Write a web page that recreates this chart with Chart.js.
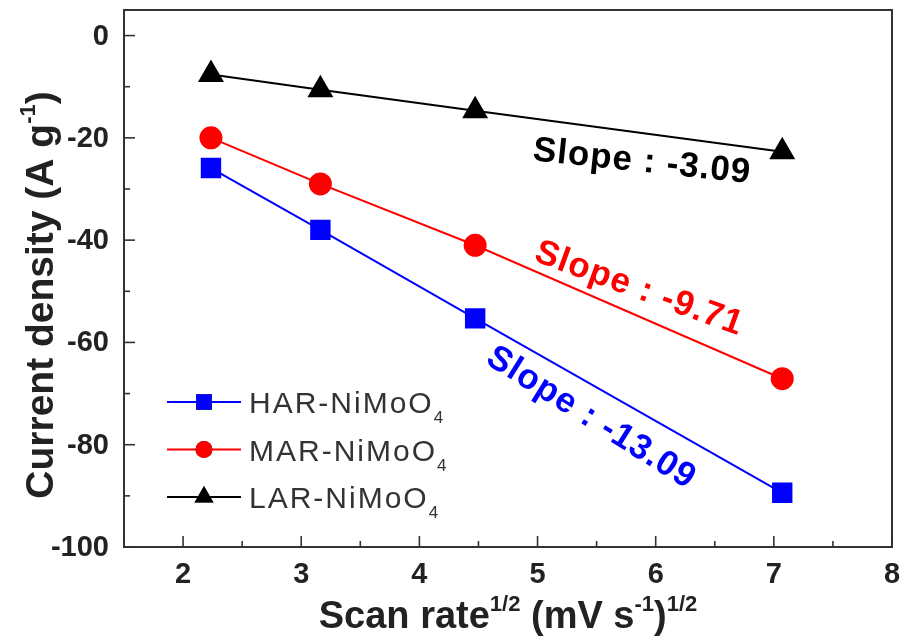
<!DOCTYPE html>
<html>
<head>
<meta charset="utf-8">
<script src="https://cdn.jsdelivr.net/npm/chart.js@4.4.1/dist/chart.umd.min.js"></script>
<style>
html,body{margin:0;padding:0;background:#fff;}
#wrap{width:900px;height:642px;}
</style>
</head>
<body>
<div id="wrap"><canvas id="cv" width="900" height="642"></canvas></div>
<script>
/* scan rate^1/2 values: sqrt of 5, 10, 20, 50 mV/s */
const scanRoot = [2.236, 3.162, 4.472, 7.071];

const harValues = [-25.9, -38.0, -55.3, -89.4];
const marValues = [-20.0, -29.0, -41.0, -67.1];
const larValues = [-7.6, -10.6, -14.7, -22.7];

const seriesNames = ['HAR-NiMoO', 'MAR-NiMoO', 'LAR-NiMoO'];
const slopeLabels = ['Slope : -13.09', 'Slope : -9.71', 'Slope : -3.09'];

const xTicks = [2, 3, 4, 5, 6, 7, 8];
const yTicks = [0, -20, -40, -60, -80, -100];

const FONT = 'Arimo, "Liberation Sans", Arial, sans-serif';
const INK = '#222';

function pts(vals){
return scanRoot.map((x,i)=>({x:x, y:vals[i]}));
}

/* =========================================
FRAME, TICKS, TITLES, LEGEND, SLOPES
========================================= */

const decor = {
id:'decor',
afterDraw(chart){
const c = chart.ctx;
const a = chart.chartArea;
const xs = chart.scales.x;
const ys = chart.scales.y;

c.save();
c.strokeStyle = '#333';
c.lineWidth = 2;
c.strokeRect(a.left, a.top, a.right - a.left, a.bottom - a.top);

// inward ticks, minor at half steps
c.lineWidth = 1.6;
for(let v = 1.5; v <= 8.001; v += 0.5){
const px = xs.getPixelForValue(v);
const len = Number.isInteger(v) ? 11 : 6;
c.beginPath();
c.moveTo(px, a.bottom);
c.lineTo(px, a.bottom - len);
c.stroke();
}
for(let v = -100; v <= 0; v += 10){
const py = ys.getPixelForValue(v);
const len = (v % 20 === 0) ? 11 : 6;
c.beginPath();
c.moveTo(a.left, py);
c.lineTo(a.left + len, py);
c.stroke();
}

// tick labels
c.fillStyle = INK;
c.font = 'bold 29px ' + FONT;
c.textAlign = 'center';
c.textBaseline = 'alphabetic';
xTicks.forEach(v=>{
c.fillText(String(v), xs.getPixelForValue(v), a.bottom + 36);
});
c.textAlign = 'right';
c.textBaseline = 'middle';
yTicks.forEach(v=>{
c.fillText(String(v), a.left - 15, ys.getPixelForValue(v) + 1);
});
c.textBaseline = 'alphabetic';

// x title with superscripts
const xParts = [
['Scan rate', false], ['1/2', true], [' (mV s', false],
['-1', true], [')', false], ['1/2', true]
];
drawRich(c, xParts, (a.left + a.right) / 2, 628, 38, 22, -17);

// y title, rotated
c.save();
c.translate(53, 295);
c.rotate(-Math.PI / 2);
const yParts = [['Current density (A g', false], ['-1', true], [')', false]];
drawRich(c, yParts, 0, 0, 39, 22, -18);
c.restore();

// legend
const ds = chart.data.datasets;
ds.forEach((d, i)=>{
const y = 402 + i * 47.5;
c.strokeStyle = d.borderColor;
c.lineWidth = 2;
c.beginPath();
c.moveTo(167, y);
c.lineTo(241, y);
c.stroke();
c.beginPath();
Chart.helpers.drawPoint(c, {
pointStyle:d.pointStyle,
radius:d.pointRadius - 2,
rotation:0,
borderWidth:0
}, 204, y);
c.fillStyle = d.borderColor;
c.fill();
c.fillStyle = '#333';
c.font = '30px ' + FONT;
c.letterSpacing = '2px';
c.textAlign = 'left';
c.fillText(seriesNames[i], 249, y + 11);
const w = c.measureText(seriesNames[i]).width;
c.font = '17px ' + FONT;
c.fillText('4', 249 + w, y + 21);
c.letterSpacing = '0px';
});

// slope annotations
const notes = [
{x:591, y:418, ang:32, col:'#0000ff'},
{x:639, y:289, ang:20, col:'#ff0000'},
{x:642, y:162, ang:6, col:'#000'}
];
notes.forEach((n, i)=>{
c.save();
c.translate(n.x, n.y);
c.rotate(n.ang * Math.PI / 180);
c.fillStyle = n.col;
c.font = 'bold 35px ' + FONT;
c.letterSpacing = '1px';
c.textAlign = 'center';
c.textBaseline = 'middle';
c.fillText(slopeLabels[i], 0, 0);
c.restore();
});

c.restore();
}
};

function drawRich(c, parts, cx, baseY, big, small, rise){
let total = 0;
parts.forEach(p=>{
c.font = 'bold ' + (p[1] ? small : big) + 'px ' + FONT;
total += c.measureText(p[0]).width;
});
let x = cx - total / 2;
c.textAlign = 'left';
parts.forEach(p=>{
c.font = 'bold ' + (p[1] ? small : big) + 'px ' + FONT;
c.fillText(p[0], x, baseY + (p[1] ? rise : 0));
x += c.measureText(p[0]).width;
});
}

/* =========================================
CHART
========================================= */

new Chart(document.getElementById('cv'), {

type:'line',

data:{
datasets:[
{
label:seriesNames[0],
data:pts(harValues),
borderColor:'#0000ff',
backgroundColor:'#0000ff',
pointStyle:'rect',
pointRadius:13,
borderWidth:2
},
{
label:seriesNames[1],
data:pts(marValues),
borderColor:'#ff0000',
backgroundColor:'#ff0000',
pointStyle:'circle',
pointRadius:10.5,
borderWidth:2
},
{
label:seriesNames[2],
data:pts(larValues),
borderColor:'#000000',
backgroundColor:'#000000',
pointStyle:'triangle',
pointRadius:13,
borderWidth:2
}
]
},

options:{
responsive:false,
animation:false,
layout:{
autoPadding:false,
padding:{left:0, right:8, top:10, bottom:0}
},
plugins:{
legend:{display:false},
tooltip:{enabled:false}
},
elements:{
line:{tension:0},
// white ring leaves a small gap where the line meets a marker
point:{borderWidth:4, borderColor:'#ffffff', hoverRadius:10}
},
scales:{
x:{
type:'linear',
min:1.5,
max:8,
afterBuildTicks(s){ s.ticks = xTicks.map(v=>({value:v})); },
afterFit(s){ s.height = 95; },
grid:{display:false, drawTicks:false},
border:{display:false},
ticks:{display:false}
},
y:{
min:-100,
max:5,
afterBuildTicks(s){ s.ticks = yTicks.map(v=>({value:v})); },
afterFit(s){ s.width = 124; },
grid:{display:false, drawTicks:false},
border:{display:false},
ticks:{display:false}
}
}
},

plugins:[decor]

});
</script>
</body>
</html>
